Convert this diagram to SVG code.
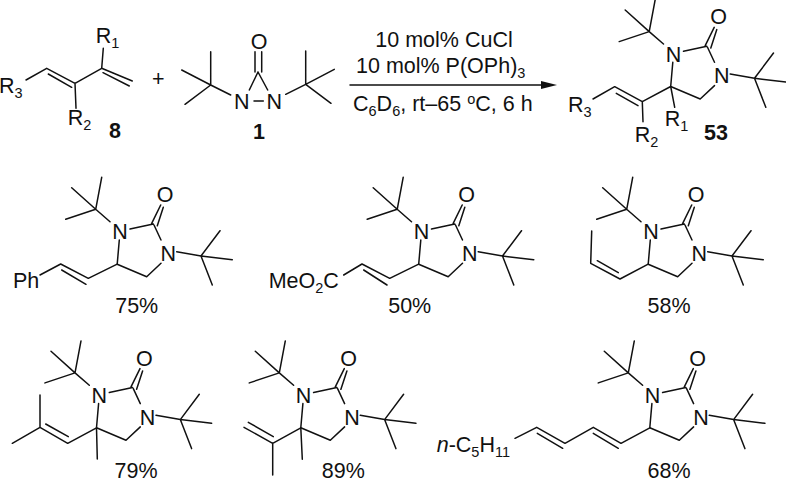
<svg xmlns="http://www.w3.org/2000/svg" width="786" height="481" viewBox="0 0 786 481">
<style>
.b{fill:none;stroke:#111;stroke-width:1.5;stroke-linecap:round;stroke-linejoin:round}
text{font-family:"Liberation Sans",Arial,sans-serif;font-size:21.5px;fill:#111}
.c{text-anchor:middle}
.k{font-weight:bold}
.s{font-size:14.5px}
</style>
<defs>
<path id="core" class="b" d="M-20.3-53.4L-14.3-85.4M-20.3-53.4L-44.3-75M-20.3-53.4L-50.3-43.4M-20.3-53.4L-6-41M14-33.7L37.3-38.7M35.7-39.4L44.7-57.7M41.3-37L47.3-55.4M38-37.7L45-22.7M60.7-11L85-6.7M85-6.7L104-32M85-6.7L116.3-3M85-6.7L96.3 22.3M45 .6L30.7 14L1.200 1.500L3.3-22.7"/>
</defs>
<rect width="786" height="481" fill="#fff"/>
<g id="diene8">
<path class="b" d="M26 80L46.700 68.300L75 83.300L101.700 68.300L132.300 81M48.300 74L71.700 87.300M103 72.700L129.300 86M103.300 48.300L101.700 68.300M75 83.300L76 108.300"/>
<text x="95.700" y="43.300">R<tspan class="s" dy="5">1</tspan></text>
<text x="67.700" y="125">R<tspan class="s" dy="5">2</tspan></text>
<text x="-1" y="92.700">R<tspan class="s" dy="5">3</tspan></text>
<text class="c k" x="115" y="138.300">8</text>
</g>
<text id="plus" class="c" x="158.300" y="85.500">+</text>
<g id="diaziridinone1">
<path class="b" d="M255 51.700V72M261.700 51.700V72M258 72L249.300 90M258 72L267.700 90M254 101H263.300M210.700 85V51.700M210.700 85L181.700 70M210.700 85L185 104.300M210.700 85L230.700 95M305.700 84.300V51M305.700 84.300L334.300 69.300M305.700 84.300L331 103.300M305.700 84.300L285.700 94.300"/>
<text class="c" x="259" y="48.700">O</text>
<text class="c" x="241.700" y="109.400">N</text>
<text class="c" x="274.300" y="109.400">N</text>
<text class="c k" x="259" y="139.300">1</text>
</g>
<g id="conditions">
<path class="b" d="M350 85H545"/>
<path d="M541 81L557 85L541 89Z" fill="#111"/>
<text class="c" x="444" y="46.700">10 mol% CuCl</text>
<text x="356" y="73.300">10 mol% P(OPh)<tspan class="s" dy="5">3</tspan></text>
<text x="353" y="111">C<tspan class="s" dy="5">6</tspan><tspan dy="-5">D</tspan><tspan class="s" dy="5">6</tspan><tspan dy="-5">, rt–65 </tspan><tspan class="s" dy="-7">o</tspan><tspan dy="7">C, 6 h</tspan></text>
</g>
<g id="product53">
<use href="#core" transform="translate(669.500 85)"/>
<path class="b" d="M593 99L614.700 86.700L642.300 101.700L670.700 86.500M616.300 93.300L638 105.700M642.300 101.700L643 121.700M670.700 86.500L674.700 107.300"/>
<text class="c" x="718.500" y="24.300">O</text>
<text class="c" x="673.500" y="61.700">N</text>
<text class="c" x="721.800" y="83.300">N</text>
<text x="568" y="111.700">R<tspan class="s" dy="5">3</tspan></text>
<text x="634.700" y="141.700">R<tspan class="s" dy="5">2</tspan></text>
<text x="664.700" y="125.700">R<tspan class="s" dy="5">1</tspan></text>
<text class="c k" x="716" y="140">53</text>
</g>
<g id="entry75">
<use href="#core" transform="translate(116 262.700)"/>
<path class="b" d="M40 275L60.700 264L88.300 278.300L117.200 264.200M61.700 270L86 284.300"/>
<text class="c" x="165" y="202">O</text>
<text class="c" x="120" y="239.400">N</text>
<text class="c" x="168.300" y="261">N</text>
<text x="13" y="287.700">Ph</text>
<text class="c" x="136.700" y="313.300">75%</text>
</g>
<g id="entry50">
<use href="#core" transform="translate(417.500 262.700)"/>
<path class="b" d="M343.700 275L362 264L389.700 278.300L418.700 264.200M363.700 270L387 285"/>
<text class="c" x="466.500" y="202">O</text>
<text class="c" x="421.500" y="239.400">N</text>
<text class="c" x="469.800" y="261">N</text>
<text x="268.700" y="287.700">MeO<tspan class="s" dy="5">2</tspan><tspan dy="-5">C</tspan></text>
<text class="c" x="409.700" y="313.300">50%</text>
</g>
<g id="entry58">
<use href="#core" transform="translate(647 262.700)"/>
<path class="b" d="M648.200 264.200L620 279L590.700 263.300L591.700 231M597.300 260.700L618.300 272.700"/>
<text class="c" x="696" y="202">O</text>
<text class="c" x="651" y="239.400">N</text>
<text class="c" x="699.300" y="261">N</text>
<text class="c" x="669" y="313.300">58%</text>
</g>
<g id="entry79">
<use href="#core" transform="translate(95.300 426.300)"/>
<path class="b" d="M96.500 427.800L67.700 443.300L40 427.300V395M40 427.300L12.300 443.300M45.700 424L68.300 436.700M96.500 427.800L97.300 459"/>
<text class="c" x="144.300" y="365.600">O</text>
<text class="c" x="99.300" y="403">N</text>
<text class="c" x="147.600" y="424.600">N</text>
<text class="c" x="136" y="477.500">79%</text>
</g>
<g id="entry89">
<use href="#core" transform="translate(299.600 426.300)"/>
<path class="b" d="M300.800 427.800L272.700 443.300L244 427.300M248.300 422.300L273.300 436.700M272.700 443.300V475M300.800 427.800L302.300 459.300"/>
<text class="c" x="348.600" y="365.600">O</text>
<text class="c" x="303.600" y="403">N</text>
<text class="c" x="351.900" y="424.600">N</text>
<text class="c" x="343.300" y="477.500">89%</text>
</g>
<g id="entry68">
<use href="#core" transform="translate(648.600 426.300)"/>
<path class="b" d="M649.800 427.800L621 443.300L593.300 427.300L565 443.300L536.700 427.300L515 438.300M593.300 433.300L618.300 448.300M537.300 433.300L562.700 448.300"/>
<text class="c" x="697.600" y="365.600">O</text>
<text class="c" x="652.600" y="403">N</text>
<text class="c" x="700.900" y="424.600">N</text>
<text x="436.700" y="451.700"><tspan font-style="italic">n</tspan>-C<tspan class="s" dy="5">5</tspan><tspan dy="-5">H</tspan><tspan class="s" dy="5">11</tspan></text>
<text class="c" x="669" y="477.500">68%</text>
</g>
</svg>
